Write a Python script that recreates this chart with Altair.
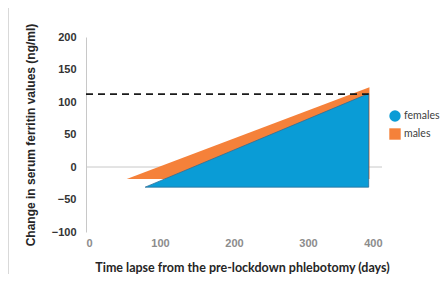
import altair as alt
import pandas as pd

# Data
groups = ["males", "females"]
x_start = [55, 80]          # days where each wedge starts
x_end = [383, 382]          # days where each wedge ends
y_base = [-18.5, -31]       # ng/ml at the start (baseline)
y_top = [122.6, 113]        # ng/ml reached at the end
ref_level = 112             # dashed reference line
ref_x = [0, 382]
x_ticks = [0, 100, 200, 300, 400]
y_ticks = [-100, -50, 0, 50, 100, 150, 200]

rows = []
for g, xs, xe, yb, yt in zip(groups, x_start, x_end, y_base, y_top):
    rows.append({"group": g, "x": xs, "y": yb, "y2": yb})
    rows.append({"group": g, "x": xe, "y": yt, "y2": yb})
df = pd.DataFrame(rows)

# legend key points (hidden behind the females wedge)
key_df = pd.DataFrame({"group": groups, "x": [300, 300], "y": [0, 0]})
zero_df = pd.DataFrame({"x": [0], "x2": [400], "y": [0]})
dash_df = pd.DataFrame({"x": [ref_x[0]], "x2": [ref_x[1]], "y": [ref_level]})

W, H = 296, 195
xscale = alt.Scale(domain=[0, 400], nice=False)
yscale = alt.Scale(domain=[-100, 200], nice=False)

xaxis = alt.Axis(title="Time lapse from the pre-lockdown phlebotomy (days)",
                 values=x_ticks, domain=False, ticks=False, grid=False,
                 labelOverlap=False,
                 labelFont="Liberation Sans", labelFontSize=11, labelFontWeight="bold",
                 labelColor="#8c8c8c", labelPadding=5,
                 titleFont="Lato", titleFontSize=12.5, titleFontWeight="bold",
                 titleColor="#262626", titlePadding=13, titleX=156)
yaxis = alt.Axis(title="Change in serum ferritin values (ng/ml)",
                 values=y_ticks, domain=True, domainColor="#c8c8c8",
                 ticks=False, grid=False, labelOverlap=False,
                 labelFont="Liberation Sans", labelFontSize=11, labelFontWeight="bold",
                 labelColor="#333333", labelPadding=10,
                 titleFont="Liberation Sans", titleFontSize=12, titleFontWeight="bold",
                 titleColor="#262626", titlePadding=14)
X = alt.X("x:Q", scale=xscale, axis=xaxis)
Y = alt.Y("y:Q", scale=yscale, axis=yaxis)

legend = alt.Legend(
    title=None, orient="none", legendX=303, legendY=73, padding=0,
    symbolSize=130, symbolStrokeWidth=0, symbolOpacity=1,
    labelFont="Lato", labelFontSize=10.5, labelColor="#404040",
    rowPadding=6, labelOffset=3, labelLimit=0,
)
color = alt.Color(
    "group:N",
    scale=alt.Scale(domain=["females", "males"], range=["#0A9CD6", "#F5813A"]),
    legend=legend,
)
shape = alt.Shape(
    "group:N",
    scale=alt.Scale(domain=["females", "males"], range=["circle", "square"]),
    legend=legend,
)

keys = alt.Chart(key_df).mark_point(filled=True, opacity=1, size=130).encode(
    x=X, y=Y, color=color, shape=shape,
)

base = alt.Chart(df)
male = base.transform_filter("datum.group == 'males'").mark_area(opacity=1).encode(
    x=X, y=Y, y2="y2:Q", color=color
)
female = base.transform_filter("datum.group == 'females'").mark_area(
    opacity=1, stroke="#2b6e99", strokeWidth=0.8
).encode(x=X, y=Y, y2="y2:Q", color=color)

zero = alt.Chart(zero_df).mark_rule(color="#c8c8c8", strokeWidth=1).encode(
    x=X, x2="x2:Q", y=Y
)
dash = alt.Chart(dash_df).mark_rule(
    color="#1a1a1a", strokeWidth=1.8, strokeDash=[7, 5]
).encode(x=X, x2="x2:Q", y=Y)

one = pd.DataFrame({"a": [0]})
frame = alt.Chart(one).mark_rule(color="#d9d9d9", strokeWidth=1).encode(
    x=alt.value(-78), x2=alt.value(356), y=alt.value(-29.5)
)
frame2 = alt.Chart(one).mark_rule(color="#d9d9d9", strokeWidth=1).encode(
    x=alt.value(-77.5), y=alt.value(-30), y2=alt.value(240)
)

chart = alt.layer(keys, zero, male, female, dash, frame, frame2).properties(
    width=W, height=H,
    background="white",
    autosize=alt.AutoSizeParams(type="none"),
    padding={"left": 78, "top": 29, "right": 58, "bottom": 42},
).configure_view(stroke=None)

chart.save("out.html", embed_options={"renderer": "svg", "actions": False})
